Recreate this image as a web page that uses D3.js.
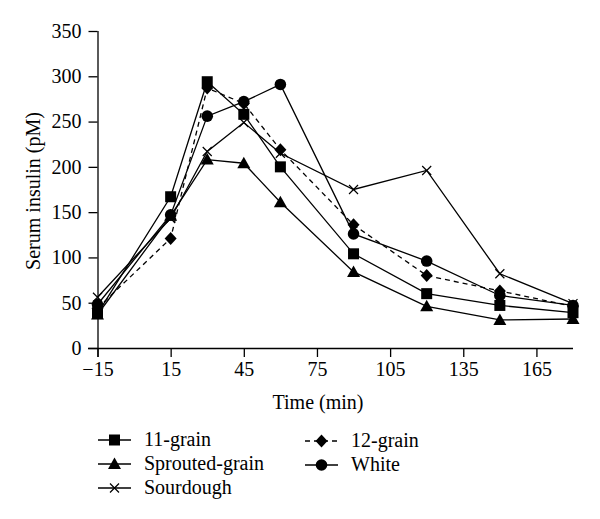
<!DOCTYPE html>
<html><head><meta charset="utf-8">
<script src="https://cdn.jsdelivr.net/npm/d3@7"></script>
<style>body{margin:0;background:#fff}svg{display:block}</style>
</head><body><svg id="c" width="600" height="519"></svg>
<script>
const times = [-15, 15, 30, 45, 60, 90, 120, 150, 180];
const elevenGrain   = [38, 167, 294, 258, 200, 104, 60, 47, 39];
const sproutedGrain = [37, 146, 208, 204, 161, 84, 46, 31, 32];
const sourdough     = [56, 143, 217, 249, 215, 175, 196, 82, 49];
const twelveGrain   = [44, 121, 287, 270, 219, 136, 80, 63, 46];
const white         = [48, 147, 256, 272, 291, 126, 96, 58, 47];
const xTicks = [-15, 15, 45, 75, 105, 135, 165];
const yTicks = [0, 50, 100, 150, 200, 250, 300, 350];

const series = [
  {name:"11-grain", values:elevenGrain, marker:"square", dash:null},
  {name:"Sprouted-grain", values:sproutedGrain, marker:"triangle", dash:null},
  {name:"Sourdough", values:sourdough, marker:"cross", dash:null},
  {name:"12-grain", values:twelveGrain, marker:"diamond", dash:"5,4"},
  {name:"White", values:white, marker:"circle", dash:null}
];

const FONT = "'Liberation Serif', 'Times New Roman', 'DejaVu Serif', serif";
const fs = 20;
const svg = d3.select("#c");
const x = d3.scaleLinear().domain([-15, 180]).range([97.5, 573]);
const y = d3.scaleLinear().domain([0, 350]).range([348, 31]);

const gx = svg.append("g").attr("transform","translate(0,348)")
  .call(d3.axisBottom(x).tickValues(xTicks).tickSize(9).tickPadding(5).tickFormat(d=>d<0?"\u2212"+Math.abs(d):d));
const gy = svg.append("g").attr("transform","translate(97.5,0)")
  .call(d3.axisLeft(y).tickValues(yTicks).tickSize(9).tickPadding(7));
[gx,gy].forEach(g=>{
  g.attr("font-family",null).attr("font-size",null);
  g.select(".domain").attr("stroke","#000").attr("stroke-width",1.3);
  g.selectAll(".tick line").attr("stroke","#000").attr("stroke-width",1.3);
  g.selectAll(".tick text").style("font-family",FONT).style("font-size",fs+"px").attr("fill","#000");
});
gx.select(".domain").attr("d","M88,0.5H573");
gy.select(".domain").attr("d","M0.5,31V357");

svg.append("text").attr("x",318).attr("y",409).attr("text-anchor","middle")
  .style("font-family",FONT).style("font-size",fs+"px").text("Time (min)");
svg.append("text").attr("transform","translate(40,191) rotate(-90)").attr("text-anchor","middle")
  .style("font-family",FONT).style("font-size",fs+"px").text("Serum insulin (pM)");

function drawMarker(g, type, cx, cy){
  if(type==="square") g.append("rect").attr("x",cx-5.5).attr("y",cy-5.5).attr("width",11).attr("height",11).attr("fill","#000");
  else if(type==="triangle") g.append("path").attr("d",`M${cx},${cy-6.5}L${cx+6.5},${cy+5}L${cx-6.5},${cy+5}Z`).attr("fill","#000");
  else if(type==="diamond") g.append("path").attr("d",`M${cx},${cy-6.5}L${cx+6},${cy}L${cx},${cy+6.5}L${cx-6},${cy}Z`).attr("fill","#000");
  else if(type==="circle") g.append("circle").attr("cx",cx).attr("cy",cy).attr("r",5.8).attr("fill","#000");
  else if(type==="cross") g.append("path").attr("d",`M${cx-4.5},${cy-4.5}L${cx+4.5},${cy+4.5}M${cx-4.5},${cy+4.5}L${cx+4.5},${cy-4.5}`).attr("stroke","#000").attr("stroke-width",1.2);
}

const line = d3.line().x(d=>x(d[0])).y(d=>y(d[1]));
series.forEach(s=>{
  const pts = times.map((t,i)=>[t,s.values[i]]);
  svg.append("path").attr("d",line(pts)).attr("fill","none").attr("stroke","#000").attr("stroke-width",1.3)
    .attr("stroke-dasharray",s.dash);
});
series.forEach(s=>{
  const g = svg.append("g");
  times.forEach((t,i)=>drawMarker(g, s.marker, x(t), y(s.values[i])));
});

const legPos = [[98,440],[98,464],[98,488],[305,441],[305,465]];
series.forEach((s,k)=>{
  const [lx,ly] = legPos[k];
  const g = svg.append("g");
  g.append("line").attr("x1",lx).attr("x2",lx+33).attr("y1",ly).attr("y2",ly).attr("stroke","#000").attr("stroke-width",1.3).attr("stroke-dasharray",s.dash);
  drawMarker(g, s.marker, lx+16.5, ly);
  g.append("text").attr("x",lx+46).attr("y",ly+6).style("font-family",FONT).style("font-size",fs+"px").text(s.name);
});
</script></body></html>
